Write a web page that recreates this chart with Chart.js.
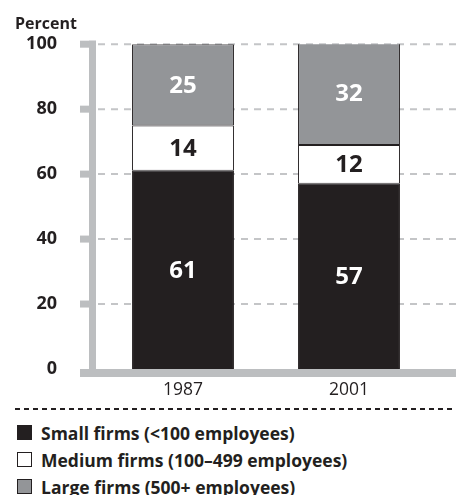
<!DOCTYPE html>
<html>
<head>
<meta charset="utf-8">
<title>Firm size shares</title>
<script src="https://cdn.jsdelivr.net/npm/chart.js@4.4.1/dist/chart.umd.min.js"></script>
<style>
  html, body { margin: 0; padding: 0; background: #fff; }
  #page { position: relative; width: 456px; height: 495px; overflow: hidden; font-family: "Open Sans", sans-serif; color: #231f20; }
  #chartBox { position: absolute; left: 0; top: 0; width: 456px; height: 400px; }
  #rule { position: absolute; left: 15px; right: 0; top: 408px; height: 2px;
          background: repeating-linear-gradient(to right, #231f20 0 5px, transparent 5px 9px); }
  #legend { position: absolute; left: 17px; top: 419px; margin: 0; padding: 0; list-style: none; }
  #legend li { display: flex; align-items: center; height: 27px; font-weight: 700; font-size: 17.5px; white-space: nowrap; }
  #legend .sw { width: 13px; height: 13px; border: 1px solid #231f20; margin-right: 9px; flex: none; }
</style>
</head>
<body>
<div id="page">
  <div id="chartBox"><canvas id="firmChart"></canvas></div>
  <div id="rule"></div>
  <ul id="legend"></ul>
</div>
<script>
// data
const years = ['1987', '2001'];
const smallFirms = [61, 57];
const mediumFirms = [14, 12];
const largeFirms = [25, 32];
const seriesNames = ['Small firms (<100 employees)', 'Medium firms (100–499 employees)', 'Large firms (500+ employees)'];
const yTicks = [0, 20, 40, 60, 80, 100];

const ink = '#231f20';
const fills = [ink, '#ffffff', '#939598'];
const labelColors = ['#ffffff', ink, '#ffffff'];

Chart.defaults.font.family = '"Open Sans", sans-serif';
Chart.defaults.color = ink;

// axis bars, tick stubs and dashed grid, drawn from the y scale
const axisFrame = {
    id: 'axisFrame',
    beforeDatasetsDraw(chart) {
        const { ctx, scales: { y } } = chart;
        const W = chart.width;
        const top = y.getPixelForValue(100);
        const base = y.getPixelForValue(0);
        ctx.save();
        ctx.strokeStyle = '#c4c5c7';
        ctx.lineWidth = 2;
        ctx.setLineDash([7, 6]);
        yTicks.forEach(v => {
            if (v === 0) return;
            const py = y.getPixelForValue(v);
            ctx.beginPath();
            ctx.moveTo(98, py);
            ctx.lineTo(W, py);
            ctx.stroke();
        });
        ctx.setLineDash([]);
        ctx.fillStyle = '#bcbec0';
        yTicks.forEach(v => {
            if (v === 0) return;
            const py = y.getPixelForValue(v);
            ctx.fillRect(80, py - 3.5, 16, 7);
        });
        ctx.fillRect(89, top - 3.5, 7, base - top + 8);
        ctx.fillRect(80, base, W - 80, 8);
        ctx.restore();
    }
};

// numbers inside each segment
const segmentLabels = {
    id: 'segmentLabels',
    afterDatasetsDraw(chart) {
        const { ctx } = chart;
        ctx.save();
        ctx.font = 'bold 24px "Open Sans", sans-serif';
        ctx.textAlign = 'center';
        ctx.textBaseline = 'middle';
        chart.data.datasets.forEach((ds, i) => {
            chart.getDatasetMeta(i).data.forEach((bar, j) => {
                ctx.fillStyle = labelColors[i];
                ctx.fillText(ds.data[j], bar.x, (bar.y + bar.base) / 2 + 1);
            });
        });
        ctx.restore();
    }
};

const seriesData = [smallFirms, mediumFirms, largeFirms];

new Chart(document.getElementById('firmChart'), {
    type: 'bar',
    data: {
        labels: years,
        datasets: seriesData.map((d, i) => ({
            label: seriesNames[i],
            data: d,
            backgroundColor: fills[i],
            borderColor: ink,
            borderWidth: 1,
            borderSkipped: false,
            categoryPercentage: 1,
            barPercentage: 0.614
        }))
    },
    options: {
        responsive: true,
        maintainAspectRatio: false,
        animation: false,
        layout: { padding: { left: 15, right: 24, top: 0, bottom: 0 } },
        plugins: {
            legend: { display: false },
            tooltip: { enabled: false },
            title: {
                display: true,
                text: 'Percent',
                align: 'start',
                color: ink,
                font: { size: 16, weight: 'bold' },
                padding: { top: 15, bottom: 10 }
            }
        },
        scales: {
            x: {
                stacked: true,
                grid: { display: false, drawTicks: false },
                border: { display: false },
                ticks: { color: ink, font: { size: 17.5 }, padding: 11 },
                afterFit(s) { s.height = 31; }
            },
            y: {
                stacked: true,
                min: 0,
                max: 100,
                afterBuildTicks(s) { s.ticks = yTicks.map(v => ({ value: v })); },
                grid: { display: false, drawTicks: false },
                border: { display: false },
                ticks: { color: ink, font: { size: 18, weight: 'bold' }, padding: 43 },
                afterFit(s) {
                    s.width = 85;
                    // the big label gap should not push the plot in vertically
                    s.paddingTop = 0;
                    s.paddingBottom = 0;
                }
            }
        }
    },
    plugins: [axisFrame, segmentLabels]
});

// legend built from the same series
const legend = document.getElementById('legend');
seriesNames.forEach((name, i) => {
    const li = document.createElement('li');
    const sw = document.createElement('span');
    sw.className = 'sw';
    sw.style.background = fills[i];
    li.appendChild(sw);
    li.appendChild(document.createTextNode(name));
    legend.appendChild(li);
});
</script>
</body>
</html>
